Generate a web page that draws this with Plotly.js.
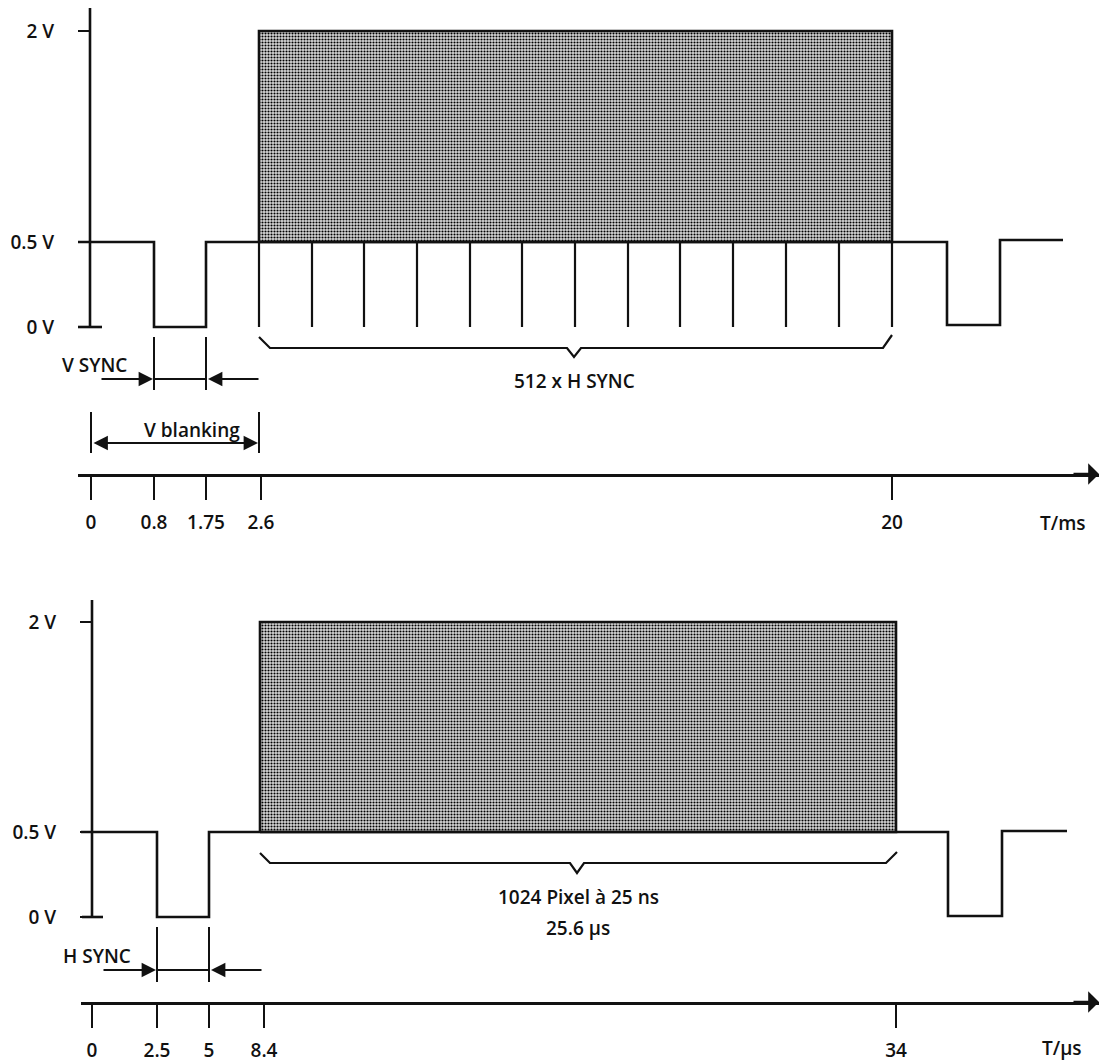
<!DOCTYPE html>
<html>
<head>
<meta charset="utf-8">
<script src="https://cdn.plot.ly/plotly-3.0.1.min.js"></script>
<style>html,body{margin:0;padding:0;background:#fff;}#chart{width:1099px;height:1064px;}</style>
</head>
<body>
<div id="chart"></div>
<script>
// ---------- DATA (schematic diagram units) ----------
// Voltage levels and their tick labels
const levelLabels = ['0 V', '0.5 V', '2 V'];
const levelsTop = [0, 85, 296];
const levelsBot = [0, 85, 295];

// Top panel: vertical timing (ms)
const timeLabelsTop = ['0', '0.8', '1.75', '2.6', '20'];
const timePosTop = [91, 154, 206, 261, 892];
const unitTop = 'T/ms';
const waveTopX = [78, 154, 154, 206, 206, 892, 947, 947, 1000, 1000, 1063];
const waveTopY = [85, 85, 0, 0, 85, 85, 85, 2, 2, 87, 87];
const videoTopX = [259, 892];
const hsyncTopX = [259, 312, 364, 417, 470, 522, 575, 628, 680, 733, 786, 839, 892];
const braceTopX = [259, 270, 567, 574, 581, 883, 892];
const braceTopY = [-10, -21, -21, -30, -21, -21, -8];
const braceTopText = '512 x H SYNC';
const syncTopLabel = 'V SYNC';
const blankTopLabel = 'V blanking';

// Bottom panel: horizontal timing (µs)
const timeLabelsBot = ['0', '2.5', '5', '8.4', '34'];
const timePosBot = [92, 157, 209, 264, 896];
const unitBot = 'T/µs';
const waveBotX = [81, 157, 157, 209, 209, 896, 948, 948, 1002, 1002, 1067];
const waveBotY = [85, 85, 0, 0, 85, 85, 85, 1, 1, 86, 86];
const videoBotX = [260, 896];
const braceBotX = [260, 270, 570, 577, 584, 886, 897];
const braceBotY = [64, 54, 54, 44, 54, 54, 65];
const braceBotText1 = '1024 Pixel à 25 ns';
const braceBotText2 = '25.6 µs';
const syncBotLabel = 'H SYNC';

// ---------- STYLE ----------
const INK = '#111';
const FONT = {family: 'Open Sans, sans-serif', size: 19, color: INK, weight: 600};
const W = 1099, H = 1064;

function line(x, y, xa, ya, w) {
  return {type: 'scatter', mode: 'lines', x: x, y: y, xaxis: xa, yaxis: ya,
          line: {color: INK, width: w || 2.2}, hoverinfo: 'skip', showlegend: false};
}
function box(xr, lv, xa, ya) {
  return {type: 'scatter', mode: 'lines', xaxis: xa, yaxis: ya,
          x: [xr[0], xr[1], xr[1], xr[0], xr[0]],
          y: [lv[1], lv[1], lv[2], lv[2], lv[1]],
          fill: 'toself', fillcolor: '#8a8a8a',
          fillpattern: {shape: '.', size: 3, solidity: 0.4, fgcolor: '#000', bgcolor: '#dadada'},
          line: {color: INK, width: 2.6}, hoverinfo: 'skip', showlegend: false};
}

const traces = [];
// ---- top panel ----
traces.push(line([90, 90], [0, 319], 'x', 'y', 2.6));              // voltage axis
traces.push(line([78, 102], [0, 0], 'x', 'y', 2.6));               // 0 V tick
traces.push(box(videoTopX, levelsTop, 'x', 'y'));
traces.push(line(waveTopX, waveTopY, 'x', 'y', 2.6));
(function(){
  const xs = [], ys = [];
  hsyncTopX.forEach(v => { xs.push(v, v, null); ys.push(levelsTop[1], levelsTop[0], null); });
  traces.push(line(xs, ys, 'x', 'y', 2.2));
})();
traces.push(line(braceTopX, braceTopY, 'x', 'y', 2.2));
// V SYNC markers
traces.push(line([154, 154, null, 206, 206, null, 154, 206], [-10, -63, null, -10, -63, null, -52, -52], 'x', 'y', 2));
// V blanking markers
traces.push(line([91, 91, null, 259, 259], [-85, -126, null, -85, -126], 'x', 'y', 2));

// ---- bottom panel ----
traces.push(line([92, 92], [0, 317], 'x2', 'y2', 2.6));
traces.push(line([82, 103], [0, 0], 'x2', 'y2', 2.6));
traces.push(box(videoBotX, levelsBot, 'x2', 'y2'));
traces.push(line(waveBotX, waveBotY, 'x2', 'y2', 2.6));
traces.push(line(braceBotX, braceBotY, 'x2', 'y2', 2.2));
traces.push(line([157, 157, null, 209, 209, null, 157, 209], [-10, -65, null, -10, -65, null, -53, -53], 'x2', 'y2', 2));

function arrow(xa, ya, tipX, tipY, tailX, tailY, opts) {
  return Object.assign({xref: xa, yref: ya, axref: xa, ayref: ya, x: tipX, y: tipY, ax: tailX, ay: tailY,
          text: '', showarrow: true, arrowhead: 2, arrowsize: 1.6, arrowwidth: 1.8, arrowcolor: INK,
          standoff: 0, startstandoff: 0}, opts || {});
}
function label(xa, ya, x, y, text, opts) {
  return Object.assign({xref: xa, yref: ya, x: x, y: y, text: text, showarrow: false, font: FONT,
          xanchor: 'center', yanchor: 'middle'}, opts || {});
}

const annotations = [
  // top
  label('x', 'y', 574, -54, braceTopText),
  label('x', 'y', 94, -38, syncTopLabel),
  label('x', 'y', 192, -103, blankTopLabel),
  label('paper', 'paper', 1063 / W, 1 - 523 / H, unitTop),
  arrow('x', 'y', 153, -52, 100, -52),
  arrow('x', 'y', 208, -52, 260, -52),
  arrow('x', 'y', 258, -116, 92, -116, {arrowside: 'end+start'}),
  arrow('x', 'y', 1099, -147, 1072, -147, {arrowhead: 1, arrowsize: 1.5, arrowwidth: 2.4}),
  // bottom
  label('x2', 'y2', 578, 20, braceBotText1),
  label('x2', 'y2', 578, -11, braceBotText2),
  label('x2', 'y2', 97, -39, syncBotLabel),
  label('paper', 'paper', 1062 / W, 1 - 1048 / H, unitBot),
  arrow('x2', 'y2', 156, -53, 102, -53),
  arrow('x2', 'y2', 211, -53, 263, -53),
  arrow('x2', 'y2', 1099, -85, 1072, -85, {arrowhead: 1, arrowsize: 1.5, arrowwidth: 2.4})
];

function xAxis(domainStart, anchor, pos, labels) {
  return {domain: [domainStart / W, 1], range: [domainStart, W], anchor: anchor,
          showgrid: false, zeroline: false, showline: true, linecolor: INK, linewidth: 2.6,
          ticks: 'outside', ticklen: 23, tickwidth: 2.6, tickcolor: INK,
          tickmode: 'array', tickvals: pos, ticktext: labels, tickfont: FONT,
          ticklabelstandoff: 7, fixedrange: true};
}
function yAxis(domain, range, xpos, lv) {
  return {domain: domain, range: range, anchor: 'free', position: xpos / W,
          showgrid: false, zeroline: false, showline: false,
          ticks: 'outside', ticklen: 12, tickwidth: 2.6, tickcolor: INK,
          tickmode: 'array', tickvals: lv, ticktext: levelLabels, tickfont: FONT,
          ticklabelstandoff: 20, fixedrange: true};
}

const layout = {
  width: W, height: H, margin: {l: 0, r: 0, t: 0, b: 0},
  paper_bgcolor: '#fff', plot_bgcolor: 'rgba(0,0,0,0)', showlegend: false,
  xaxis: xAxis(78, 'y', timePosTop, timeLabelsTop),
  yaxis: yAxis([1 - 474 / H, 1 - 8 / H], [-147, 319], 90, levelsTop),
  xaxis2: xAxis(81, 'y2', timePosBot, timeLabelsBot),
  yaxis2: yAxis([1 - 1002 / H, 1 - 600 / H], [-85, 317], 92, levelsBot),
  annotations: annotations
};

Plotly.newPlot('chart', traces, layout, {displayModeBar: false, staticPlot: true});
</script>
</body>
</html>
